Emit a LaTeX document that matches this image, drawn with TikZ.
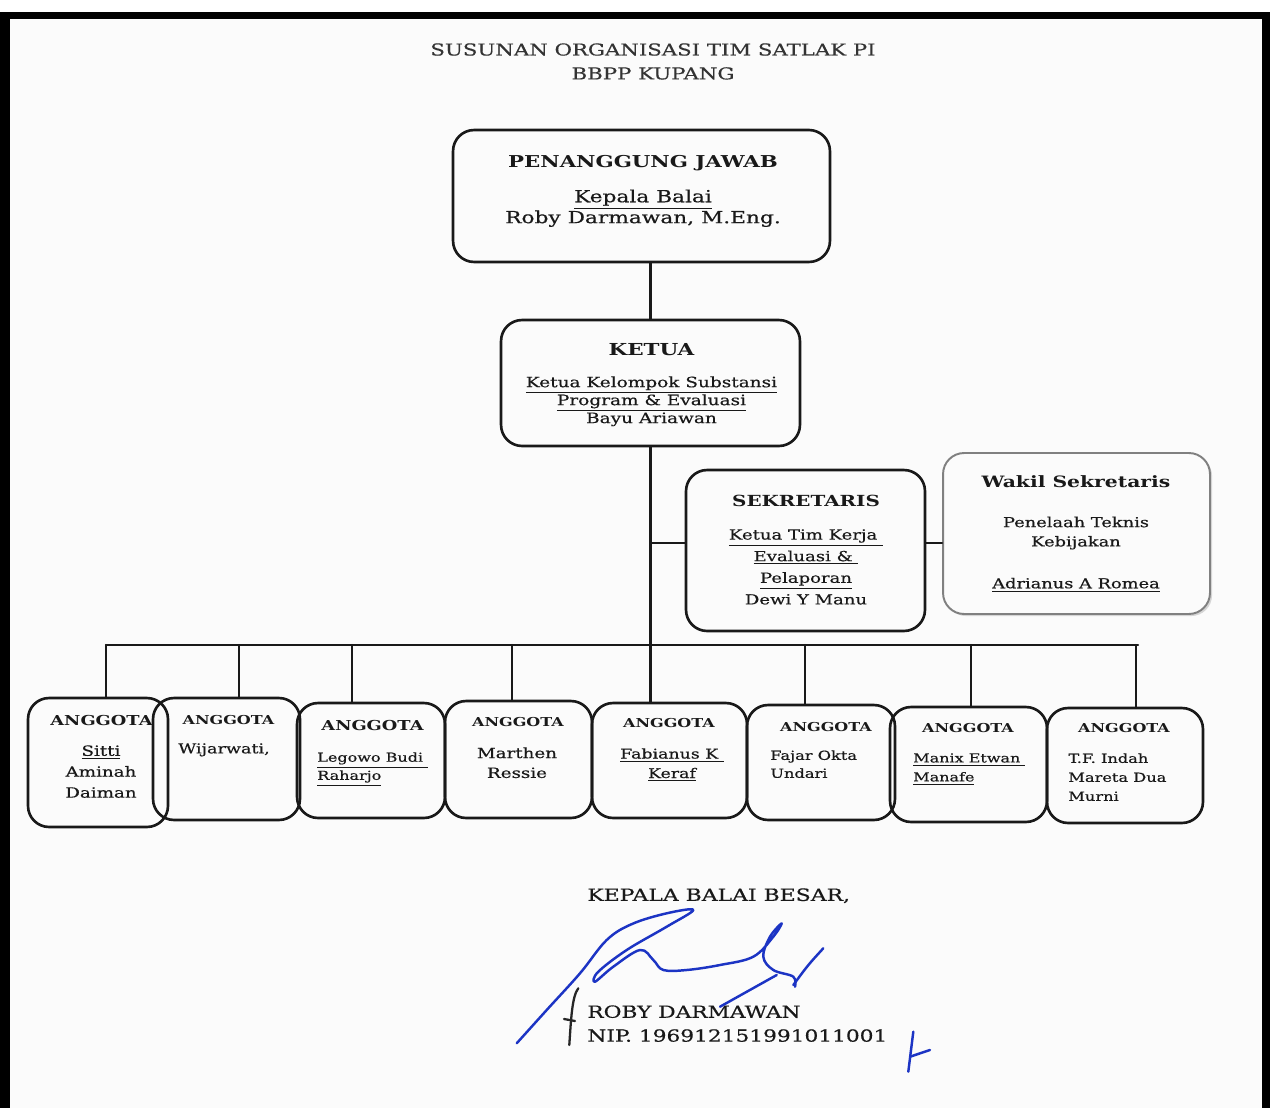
\documentclass[tikz,border=0pt]{standalone}
\usepackage{fontspec}
\setmainfont{DejaVu Serif}[FakeStretch=1.3,UprightFeatures={FakeBold=0.5}]
\usetikzlibrary{shadows}
\definecolor{paper}{RGB}{251,251,251}
\definecolor{ink}{RGB}{25,25,25}
\definecolor{pen}{RGB}{28,52,196}
\newcommand{\fs}[2]{\fontsize{#1}{#2}\selectfont}
\begin{document}
\begin{tikzpicture}[x=0.02cm,y=-0.02cm,line join=round,line cap=round,
    dims/.style 2 args={minimum width=#1*0.2mm,minimum height=#2*0.2mm},
    box/.style={draw=ink,line width=1.5pt,rounded corners=12pt,inner sep=0pt},
    softbox/.style={draw=black!50,line width=1.1pt,rounded corners=12pt,inner sep=0pt,fill=paper,
      drop shadow={shadow xshift=1.2pt,shadow yshift=-1.2pt,opacity=.3}},
    txt/.style={inner sep=0pt,align=center,text=ink,anchor=north},
    ltxt/.style={inner sep=0pt,align=left,text=ink,anchor=north west},
    link/.style={draw=ink,line width=1.2pt},
    sign/.style={draw=pen,line width=1.4pt}]
  \useasboundingbox (0,0) rectangle (1270,1108);
  \fill[white] (0,0) rectangle (1270,1108);
  \fill[black] (0,12) rectangle (1270,1108);
  \fill[paper] (10,19) rectangle (1262,1108);

  \node[txt,font=\fs{9.3}{13.6},text=black!80] (title) at (653,43) {SUSUNAN ORGANISASI TIM SATLAK PI\\BBPP KUPANG};

  \node[box,dims={377}{132}] (pj) at (641.5,196) {};
  \node[box,dims={299}{126}] (ketua) at (650.5,383) {};
  \node[box,dims={239}{161}] (sek) at (805.5,550.5) {};
  \node[softbox,dims={267}{161}] (wakil) at (1076.5,533.5) {};
  \foreach \i/\cx/\cy/\w/\h in {1/98/762.5/140/129,2/226.5/759/147/122,3/371/760.5/148/115,
      4/518.5/759.5/147/117,5/669.5/760.5/155/115,6/821/762.5/148/115,7/968.5/764.5/157/115,8/1125/765.5/156/115}
    \node[box,dims={\w}{\h}] (m\i) at (\cx,\cy) {};

  \draw[link] (ketua.north |- pj.south) -- (ketua.north);
  \draw[link] (ketua.south) -- (ketua.south |- m5.north);
  \coordinate (sj) at (651,543);
  \draw[link] (sj) -- (sj -| sek.west);
  \draw[link] (sj -| sek.east) -- (sj -| wakil.west);
  \coordinate (busL) at (106,645);
  \coordinate (busR) at (1138,645);
  \draw[link] (busL) -- (busR);
  \foreach \i/\dx in {1/106,2/239,3/352,4/512,6/805,7/971,8/1136} {
    \coordinate (d\i) at (\dx,645);
    \draw[link] (d\i) -- (d\i |- m\i.north);
  }

  \node[txt,font=\fs{9.5}{11.9}] (pjt) at (643,155) {{\fs{9.3}{11.9}\bfseries PENANGGUNG JAWAB}\\[7.9pt]
    \underline{Kepala Balai}\\Roby Darmawan, M.Eng.};
  \node[txt,font=\fs{8.1}{10.2}] (kt) at (651.5,343) {{\fs{9.4}{10.2}\bfseries KETUA}\\[7.9pt]
    \underline{Ketua Kelompok Substansi}\\\underline{Program \& Evaluasi}\\Bayu Ariawan};
  \node[txt,font=\fs{7.9}{12.3}] (st) at (806,495) {{\fs{8.7}{12.3}\bfseries SEKRETARIS}\\[6.4pt]
    \underline{Ketua Tim Kerja\ }\\\underline{Evaluasi \&\ }\\\underline{Pelaporan}\\Dewi Y Manu};
  \node[txt,font=\fs{7.8}{11}] (wt) at (1076,475) {{\fs{8.9}{11}\bfseries Wakil Sekretaris}\\[11.7pt]
    Penelaah Teknis\\Kebijakan\\[12.8pt]\underline{Adrianus A Romea}};

  \foreach \i/\lx/\ly/\s in {1/101.5/715/7.8,2/228.5/715/7,3/372.5/720/7.8,4/518/717/7,
      5/669/718/7,6/826/722/7,7/968/723/7,8/1124/723/7}
    \node[txt,font=\fs{\s}{12}\bfseries] (m\i h) at (\lx,\ly) {ANGGOTA};
  \node[txt,font=\fs{8}{11.9}] (m1n) at (101,745) {\underline{Sitti}\\Aminah\\Daiman};
  \node[txt,font=\fs{7.7}{12}] (m2n) at (224,743) {Wijarwati,};
  \node[ltxt,font=\fs{7}{10.3}] (m3n) at (317,752) {\underline{Legowo Budi\ }\\\underline{Raharjo}};
  \node[txt,font=\fs{8}{11.3}] (m4n) at (517,747) {Marthen\\Ressie};
  \node[txt,font=\fs{7.6}{11.1}] (m5n) at (672,748) {\underline{Fabianus K\ }\\\underline{Keraf}};
  \node[ltxt,font=\fs{7.1}{10.2}] (m6n) at (770,750) {Fajar Okta\\Undari};
  \node[ltxt,font=\fs{7}{10.8}] (m7n) at (913,753) {\underline{Manix Etwan\ }\\\underline{Manafe}};
  \node[ltxt,font=\fs{7.1}{10.8}] (m8n) at (1068,753) {T.F. Indah\\Mareta Dua\\Murni};

  \node[ltxt,font=\fs{9.6}{13.6}] (kepala) at (587,888) {KEPALA BALAI BESAR,};
  \node[ltxt,font=\fs{9.5}{13.6}] (nama) at (587,1005) {ROBY DARMAWAN\\NIP. 196912151991011001};

  \draw[sign] plot[smooth,tension=0.6] coordinates {(516.7,1043.3) (546.7,1010) (580,973.3) (606.7,940)
    (632,924) (666.7,913.3) (693.3,910) (666.7,926.7) (626.7,950) (598,972) (595,981.7) (613.3,966.7)
    (640,950) (653.3,960) (663.3,970) (686.7,970) (720,965) (753.3,956.7) (773.3,936.7) (781.7,923.3)
    (770,936.7) (763.3,956.7) (773.3,970) (793.3,976.7) (795,986.7)};
  \draw[sign] (823.3,948.3) .. controls (808,965) .. (793.3,985);
  \draw[sign] (720,1006.7) -- (776.7,975);
  \draw[sign] (913.3,1031.7) .. controls (911,1050) .. (908.3,1071.7);
  \draw[sign] (910,1056.7) -- (930,1050);
  \draw[line width=1.3pt,black!85] (578.3,988.3) .. controls (572,996) and (571,1020) .. (569.3,1045);
  \draw[line width=1.3pt,black!85] (564,1019) -- (575,1021);
\end{tikzpicture}
\end{document}
